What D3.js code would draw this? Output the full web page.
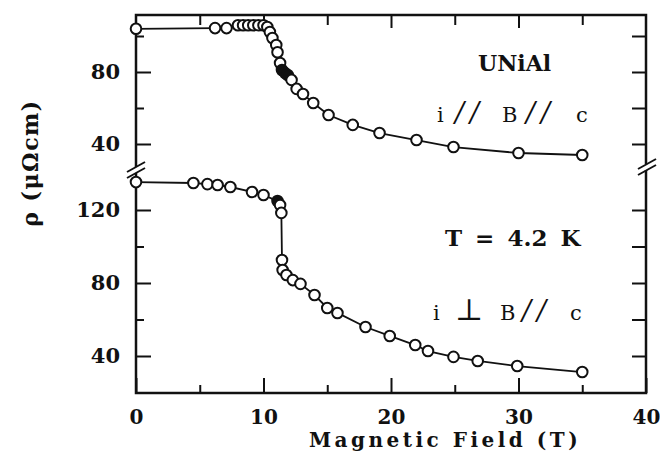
<!DOCTYPE html>
<html>
<head>
<meta charset="utf-8">
<script src="https://cdn.jsdelivr.net/npm/d3@7"></script>
<style>
  body { margin: 0; background: #fff; }
  svg { display: block; }
</style>
</head>
<body>
<script>
// upper curve: i // B // c  (open circles)
var upperB   = [0, 6.2, 7.1, 8.0, 8.4, 8.8, 9.2, 9.6, 10.0, 10.3, 10.5, 10.7, 11.0, 11.1, 11.3,
                12.2, 12.6, 13.1, 13.9, 15.1, 17.0, 19.1, 22.0, 24.9, 30.0, 35.0];
var upperRho = [104, 104.4, 104.4, 106, 106, 106, 106, 106, 106, 105, 102.2, 98.9, 95, 91, 85,
                75.6, 70.6, 67.8, 62.8, 56.1, 50.6, 46.1, 42.2, 38.3, 35, 33.9];
// upper curve, filled circles
var upperFilledB   = [11.45, 11.7, 11.9];
var upperFilledRho = [81.1, 79.4, 78.3];

// lower curve: i ⊥ B // c  (open circles)
var lowerB   = [0, 4.5, 5.6, 6.4, 7.4, 9.1, 10.0, 11.3, 11.4, 11.45, 11.5, 11.8, 12.3, 12.9, 14.0,
                15.0, 15.8, 18.0, 19.9, 21.9, 22.9, 24.9, 26.8, 29.9, 35.0];
var lowerRho = [135.3, 134.8, 134.2, 133.7, 132.6, 129.9, 128.2, 122.7, 118.4, 92.6, 87.1, 84.4, 81.6, 79.5, 73.4,
                66.3, 63.6, 55.9, 51, 46, 42.7, 39.5, 37.3, 34.5, 31.2];
// lower curve, filled circles
var lowerFilledB   = [11.1];
var lowerFilledRho = [124.9];

// ticks
var xMajor = [0, 10, 20, 30, 40];
var xMinor = [5, 15, 25, 35];
var upperMajor = [40, 80];
var upperMinor = [60, 100];
var lowerMajor = [40, 80, 120];
var lowerMinor = [60, 100];
var upperRight = [40, 60, 80, 100];
var lowerRight = [40, 60, 80, 100, 120];

var svgWidth = 660, svgHeight = 463;
var plotLeft = 136, plotRight = 646, plotTop = 15, plotBottom = 393, breakY = 169;

var svg = d3.select("body").append("svg")
  .attr("width", svgWidth)
  .attr("height", svgHeight);

var xScale = d3.scaleLinear().domain([0, 40]).range([plotLeft, plotRight]);
// two stacked panels with a broken axis
var yUpper = d3.scaleLinear().domain([40, 80]).range([144, 72]);
var yLower = d3.scaleLinear().domain([40, 120]).range([356, 210]);

var serif = "'DejaVu Serif', 'Liberation Serif', serif";

function styleAxis(g, size) {
  g.select(".domain").remove();
  g.selectAll(".tick line").attr("stroke", "#111").attr("stroke-width", 2);
  g.selectAll(".tick text")
    .attr("fill", "#111")
    .style("font-family", serif)
    .style("font-weight", "bold")
    .style("font-size", size + "px");
}

// bottom axis
svg.append("g")
  .attr("transform", `translate(0, ${plotBottom})`)
  .call(d3.axisBottom(xScale).tickValues(xMajor).tickSize(-15).tickPadding(17).tickFormat(d3.format("d")))
  .call(styleAxis, 20);
svg.append("g")
  .attr("transform", `translate(0, ${plotBottom})`)
  .call(d3.axisBottom(xScale).tickValues(xMinor).tickSize(-8).tickFormat(""))
  .call(styleAxis, 20);

// top axis
svg.append("g")
  .attr("transform", `translate(0, ${plotTop})`)
  .call(d3.axisTop(xScale).tickValues(xMajor.slice(1, 4)).tickSize(-13).tickFormat(""))
  .call(styleAxis, 20);
svg.append("g")
  .attr("transform", `translate(0, ${plotTop})`)
  .call(d3.axisTop(xScale).tickValues(xMinor).tickSize(-10).tickFormat(""))
  .call(styleAxis, 20);

// left axis, both panels
[[yUpper, upperMajor, upperMinor], [yLower, lowerMajor, lowerMinor]].forEach(function(p) {
  svg.append("g")
    .attr("transform", `translate(${plotLeft}, 0)`)
    .call(d3.axisLeft(p[0]).tickValues(p[1]).tickSize(-15).tickPadding(16).tickFormat(d3.format("d")))
    .call(styleAxis, 21);
  svg.append("g")
    .attr("transform", `translate(${plotLeft}, 0)`)
    .call(d3.axisLeft(p[0]).tickValues(p[2]).tickSize(-8).tickFormat(""))
    .call(styleAxis, 21);
});

// right axis ticks
[[yUpper, upperRight], [yLower, lowerRight]].forEach(function(p) {
  svg.append("g")
    .attr("transform", `translate(${plotRight}, 0)`)
    .call(d3.axisRight(p[0]).tickValues(p[1]).tickSize(-14).tickFormat(""))
    .call(styleAxis, 21);
});

// frame
svg.append("rect")
  .attr("x", plotLeft).attr("y", plotTop)
  .attr("width", plotRight - plotLeft).attr("height", plotBottom - plotTop)
  .attr("fill", "none")
  .attr("stroke", "#111")
  .attr("stroke-width", 2.5);

// axis break marks
[[plotLeft, breakY + 1], [plotRight + 1, breakY - 2]].forEach(function(b) {
  svg.append("rect")
    .attr("x", b[0] - 3).attr("y", b[1] - 3)
    .attr("width", 6).attr("height", 6)
    .attr("fill", "#fff");
  [-3, 3].forEach(function(o) {
    svg.append("line")
      .attr("x1", b[0] - 9).attr("y1", b[1] + o + 5)
      .attr("x2", b[0] + 9).attr("y2", b[1] + o - 5)
      .attr("stroke", "#111")
      .attr("stroke-width", 2);
  });
});

// curves
function drawSeries(bs, rhos, fb, frho, yScale) {
  var open = bs.map(function(b, i) { return {b: b, rho: rhos[i], filled: false}; });
  var full = fb.map(function(b, i) { return {b: b, rho: frho[i], filled: true}; });
  var all = open.concat(full).sort(function(a, c) { return a.b - c.b; });

  var line = d3.line()
    .x(d => xScale(d.b))
    .y(d => yScale(d.rho));

  svg.append("path")
    .datum(all)
    .attr("d", line)
    .attr("fill", "none")
    .attr("stroke", "#111")
    .attr("stroke-width", 1.8);

  svg.append("g").selectAll("circle")
    .data(all)
    .enter()
    .append("circle")
    .attr("cx", d => xScale(d.b))
    .attr("cy", d => yScale(d.rho))
    .attr("r", 5.3)
    .attr("fill", d => d.filled ? "#111" : "#fff")
    .attr("stroke", "#111")
    .attr("stroke-width", 2);
}

drawSeries(upperB, upperRho, upperFilledB, upperFilledRho, yUpper);
drawSeries(lowerB, lowerRho, lowerFilledB, lowerFilledRho, yLower);

// annotations
svg.append("text")
  .attr("x", 478).attr("y", 71)
  .style("font-family", serif).style("font-weight", "bold").style("font-size", "22px")
  .attr("fill", "#111")
  .text("UNiAl");

function labelRow(y, parts) {
  var t = svg.append("text")
    .attr("y", y)
    .style("font-family", serif).style("font-size", "21px")
    .attr("fill", "#111");
  parts.forEach(function(s) {
    var ts = t.append("tspan").attr("x", s[1]).text(s[0]);
    if (s[0] === "//") ts.style("font-size", "27px").style("font-style", "italic").style("letter-spacing", "6px");
    if (s[0] === "⊥") ts.style("font-size", "30px");
  });
}
labelRow(122, [["i", 437], ["//", 455], ["B", 502], ["//", 526], ["c", 576]]);
labelRow(320, [["i", 433], ["⊥", 455], ["B", 500], ["//", 522], ["c", 570]]);

svg.append("text")
  .attr("x", 445).attr("y", 246)
  .style("font-family", serif).style("font-weight", "bold").style("font-size", "23px")
  .style("word-spacing", "5px")
  .attr("fill", "#111")
  .text("T = 4.2 K");

// axis titles
svg.append("text")
  .attr("x", 445).attr("y", 447)
  .attr("text-anchor", "middle")
  .style("font-family", serif).style("font-weight", "bold").style("font-size", "20px")
  .style("letter-spacing", "3.5px")
  .attr("fill", "#111")
  .text("Magnetic Field (T)");

svg.append("text")
  .attr("transform", "translate(38, 163) rotate(-90)")
  .attr("text-anchor", "middle")
  .style("font-family", serif).style("font-weight", "bold").style("font-size", "22px")
  .style("letter-spacing", "1.5px")
  .attr("fill", "#111")
  .text("ρ (μΩcm)");
</script>
</body>
</html>
